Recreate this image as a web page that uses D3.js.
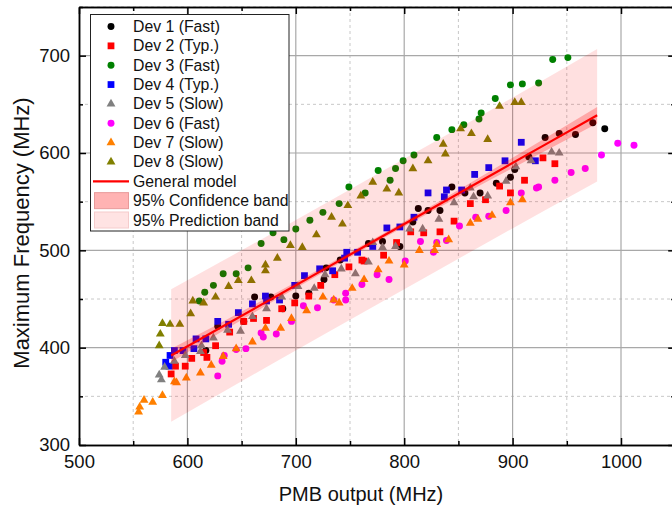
<!DOCTYPE html>
<html><head><meta charset="utf-8">
<script src="https://cdn.jsdelivr.net/npm/d3@7"></script>
<style>body{margin:0;background:#fff;}svg{display:block;font-family:"Liberation Sans",Arial,sans-serif;}</style>
</head><body><svg id="c" width="672" height="510"></svg>
<script>
// ---- data (PMB output MHz, Maximum Frequency MHz) ----
const dev1 = [[617,397],[628,422],[652,427],[662,452],[677,452],[688,440],[700,453],[712,456],[726,470],[728,482],[741,490],[767,507],[780,509],[796,504],[808,529],[813,543],[822,541],[833,541],[844,565],[856,559],[870,559],[885,569],[898,575],[902,583],[915,596],[930,616],[943,620],[958,619],[974,631],[985,625]];
const dev2 = [[585,373],[589,381],[598,381],[604,389],[615,395],[618,390],[626,402],[639,416],[652,427],[661,430],[673,428],[687,440],[699,446],[712,453],[723,464],[736,475],[749,483],[761,490],[763,489],[781,495],[793,508],[806,519],[818,518],[833,519],[846,530],[861,548],[875,552],[888,566],[898,559],[911,572],[928,595],[939,589]];
const dev3 = [[611,448],[616,457],[624,464],[633,476],[645,476],[656,482],[668,507],[679,518],[689,511],[700,522],[713,531],[725,539],[740,548],[749,565],[764,559],[776,582],[787,572],[792,584],[799,592],[809,598],[830,616],[844,624],[855,629],[869,635],[871,641],[884,656],[898,670],[909,671],[924,672],[937,696],[951,698]];
const dev4 = [[583,381],[580,385],[584,392],[588,397],[596,397],[606,399],[608,409],[617,409],[628,427],[638,424],[647,436],[660,445],[672,453],[673,448],[685,449],[699,464],[708,474],[722,481],[734,479],[745,492],[747,498],[757,498],[771,504],[784,523],[796,524],[809,534],[822,559],[837,555],[839,562],[853,562],[865,578],[878,585],[893,592],[908,611],[921,592]];
const dev5 = [[574,372],[576,367],[579,380],[588,386],[598,392],[612,396],[613,402],[624,410],[637,418],[649,417],[660,432],[673,440],[687,452],[702,463],[717,461],[727,475],[742,481],[755,476],[767,488],[771,508],[780,503],[792,504],[805,522],[817,522],[832,532],[846,549],[861,564],[864,555],[877,556],[894,571],[903,586],[917,592],[936,601],[943,600]];
const dev6 = [[628,371],[632,386],[634,392],[645,398],[654,399],[668,415],[670,411],[682,414],[696,427],[707,443],[720,441],[735,449],[746,449],[746,456],[761,465],[775,475],[786,470],[801,489],[815,509],[827,498],[830,508],[839,510],[851,525],[866,534],[878,535],[894,541],[908,559],[922,564],[924,565],[939,572],[954,580],[967,584],[982,598],[997,610],[1012,608]];
const dev7 = [[555,334],[556,339],[560,346],[568,344],[577,351],[588,365],[590,364],[599,369],[612,374],[622,382],[633,391],[645,399],[660,406],[672,420],[686,420],[696,430],[710,438],[725,452],[735,449],[740,446],[752,461],[763,470],[776,480],[786,489],[800,485],[814,500],[828,500],[830,506],[841,511],[861,528],[868,532],[881,536],[898,549],[909,552]];
const dev8 = [[574,402],[575,414],[577,425],[584,424],[593,424],[603,435],[605,448],[615,446],[626,452],[638,463],[647,469],[659,469],[672,485],[672,479],[683,492],[695,505],[706,503],[719,516],[733,534],[743,527],[748,546],[760,556],[771,570],[784,563],[795,559],[808,584],[822,592],[836,609],[838,599],[852,625],[862,620],[877,614],[888,648],[902,652],[908,652]];

const modelX   = [585, 630, 680, 730, 780, 830, 880, 930, 978];
const modelFit = [392.0, 420.2, 451.6, 483.0, 514.4, 545.8, 577.2, 608.6, 638.8];
const confLow  = [385.0, 415.2, 448.1, 480.3, 511.9, 542.8, 572.7, 602.1, 630.3];
const confHigh = [399.0, 425.2, 455.1, 485.7, 516.9, 548.8, 581.7, 615.1, 647.3];
const predLow  = [324.0, 352.7, 384.6, 416.0, 447.4, 478.8, 510.2, 541.1, 570.8];
const predHigh = [460.0, 487.7, 518.6, 550.0, 581.4, 612.8, 644.2, 676.1, 706.8];

const xMajor = [500, 600, 700, 800, 900, 1000];
const xMinor = [550, 650, 750, 850, 950, 1050];
const yMajor = [300, 400, 500, 600, 700];
const yMinor = [350, 450, 550, 650, 750];

const seriesNames = ["Dev 1 (Fast)","Dev 2 (Typ.)","Dev 3 (Fast)","Dev 4 (Typ.)","Dev 5 (Slow)","Dev 6 (Fast)","Dev 7 (Slow)","Dev 8 (Slow)"];
const seriesData = [dev1, dev2, dev3, dev4, dev5, dev6, dev7, dev8];
const seriesColors = ["#000000","#ff0000","#008000","#0000ff","#808080","#ff00ff","#ff8000","#808000"];
const seriesShapes = ["circle","square","circle","square","triangle","circle","triangle","triangle"];
const bandLabels = ["General model","95% Confidence band","95% Prediction band"];

// ---- layout ----
const svg = d3.select("#c");
const L = 79, R = 675.2, T = 7, B = 445;
const x = d3.scaleLinear().domain([500, 1050]).range([L, R]);
const y = d3.scaleLinear().domain([300, 750]).range([B, T]);

const symGen = {
  circle: d3.symbol().type(d3.symbolCircle).size(38),
  square: d3.symbol().type(d3.symbolSquare).size(46),
  triangle: d3.symbol().type(d3.symbolTriangle).size(34)
};

// grid
const grid = svg.append("g");
grid.selectAll(".vmin").data(xMinor).join("line")
  .attr("x1", d => x(d)).attr("x2", d => x(d)).attr("y1", T).attr("y2", B)
  .attr("stroke", "#c8c8c8").attr("stroke-dasharray", "3,3");
grid.selectAll(".hmin").data(yMinor).join("line")
  .attr("y1", d => y(d)).attr("y2", d => y(d)).attr("x1", L).attr("x2", R)
  .attr("stroke", "#c8c8c8").attr("stroke-dasharray", "3,3");
grid.selectAll(".vmaj").data(xMajor.slice(1)).join("line")
  .attr("x1", d => x(d)).attr("x2", d => x(d)).attr("y1", T).attr("y2", B)
  .attr("stroke", "#a8a8a8").attr("stroke-width", 1.2);
grid.selectAll(".hmaj").data(yMajor.slice(1)).join("line")
  .attr("y1", d => y(d)).attr("y2", d => y(d)).attr("x1", L).attr("x2", R)
  .attr("stroke", "#a8a8a8").attr("stroke-width", 1.2);

// points
seriesData.forEach((data, i) => {
  svg.append("g").selectAll("path").data(data).join("path")
    .attr("d", symGen[seriesShapes[i]]())
    .attr("transform", d => `translate(${x(d[0])},${y(d[1])})`)
    .attr("fill", seriesColors[i]);
});

// bands
const idx = d3.range(modelX.length);
const area = (lo, hi) => d3.area().x(i => x(modelX[i])).y0(i => y(lo[i])).y1(i => y(hi[i]));
svg.append("path").datum(idx).attr("d", area(predLow, predHigh)).attr("fill", "rgba(255,0,0,0.12)");
svg.append("path").datum(idx).attr("d", area(confLow, confHigh)).attr("fill", "rgba(255,0,0,0.25)");
svg.append("path").datum(idx).attr("d", d3.line().x(i => x(modelX[i])).y(i => y(modelFit[i])))
  .attr("fill", "none").attr("stroke", "#ff0000").attr("stroke-width", 2.2);

// axes
const fs = 18.5;
function styleAxis(g) {
  g.select(".domain").attr("stroke", "#000").attr("stroke-width", 1.5);
  g.selectAll(".tick line").attr("stroke", "#000").attr("stroke-width", 1.5);
  g.selectAll(".tick text").attr("fill", "#111").style("font-size", fs + "px").style("font-family", '"Liberation Sans",Arial,sans-serif');
}
svg.append("g").attr("transform", `translate(0,${B})`)
  .call(d3.axisBottom(x).tickValues(xMajor).tickSizeInner(-7).tickSizeOuter(0).tickPadding(10).tickFormat(d3.format("d")))
  .call(styleAxis);
svg.append("g").attr("transform", `translate(0,${B})`)
  .call(d3.axisBottom(x).tickValues(xMinor).tickSizeInner(-4).tickSizeOuter(0).tickFormat(""))
  .call(styleAxis);
svg.append("g").attr("transform", `translate(0,${T})`)
  .call(d3.axisTop(x).tickValues(xMajor).tickSizeInner(-7).tickSizeOuter(0).tickFormat(""))
  .call(styleAxis);
svg.append("g").attr("transform", `translate(0,${T})`)
  .call(d3.axisTop(x).tickValues(xMinor).tickSizeInner(-4).tickSizeOuter(0).tickFormat(""))
  .call(styleAxis);
svg.append("g").attr("transform", `translate(${L},0)`)
  .call(d3.axisLeft(y).tickValues(yMajor).tickSizeInner(-7).tickSizeOuter(0).tickPadding(9).tickFormat(d3.format("d")))
  .call(styleAxis);
svg.append("g").attr("transform", `translate(${L},0)`)
  .call(d3.axisLeft(y).tickValues(yMinor).tickSizeInner(-4).tickSizeOuter(0).tickFormat(""))
  .call(styleAxis);
svg.append("g").attr("transform", `translate(${R},0)`)
  .call(d3.axisRight(y).tickValues(yMajor).tickSizeInner(-7).tickSizeOuter(0).tickFormat(""))
  .call(styleAxis);
svg.append("g").attr("transform", `translate(${R},0)`)
  .call(d3.axisRight(y).tickValues(yMinor).tickSizeInner(-4).tickSizeOuter(0).tickFormat(""))
  .call(styleAxis);

// axis titles
svg.append("text").attr("x", 361).attr("y", 501).attr("text-anchor", "middle")
  .style("font-size", "20px").attr("fill", "#111").text("PMB output (MHz)");
svg.append("text").attr("transform", "translate(29,233) rotate(-90)").attr("text-anchor", "middle")
  .style("font-size", "22px").attr("fill", "#111").text("Maximum Frequency (MHz)");

// legend
const lg = svg.append("g");
lg.append("rect").attr("x", 90.5).attr("y", 14.5).attr("width", 198.5).attr("height", 216.5)
  .attr("fill", "#fff").attr("stroke", "#222").attr("stroke-width", 1);
const rowY = i => 26.5 + i * 19.35;
const lfs = 15.8;
seriesNames.forEach((name, i) => {
  lg.append("path").attr("d", symGen[seriesShapes[i]]())
    .attr("transform", `translate(111,${rowY(i)})`).attr("fill", seriesColors[i]);
  lg.append("text").attr("x", 133).attr("y", rowY(i)).attr("dy", "0.35em")
    .style("font-size", lfs + "px").attr("fill", "#111").text(name);
});
lg.append("line").attr("x1", 93).attr("x2", 129).attr("y1", rowY(8)).attr("y2", rowY(8))
  .attr("stroke", "#ff0000").attr("stroke-width", 2.2);
lg.append("rect").attr("x", 94.5).attr("y", rowY(9) - 8).attr("width", 34).attr("height", 16)
  .attr("fill", "#ffb3b3").attr("stroke", "#e89a9a");
lg.append("rect").attr("x", 94.5).attr("y", rowY(10) - 8).attr("width", 34).attr("height", 16)
  .attr("fill", "#ffe3e3").attr("stroke", "#f5cccc");
bandLabels.forEach((t, j) => {
  lg.append("text").attr("x", 133).attr("y", rowY(8 + j)).attr("dy", "0.35em")
    .style("font-size", lfs + "px").attr("fill", "#111").text(t);
});
</script></body></html>
